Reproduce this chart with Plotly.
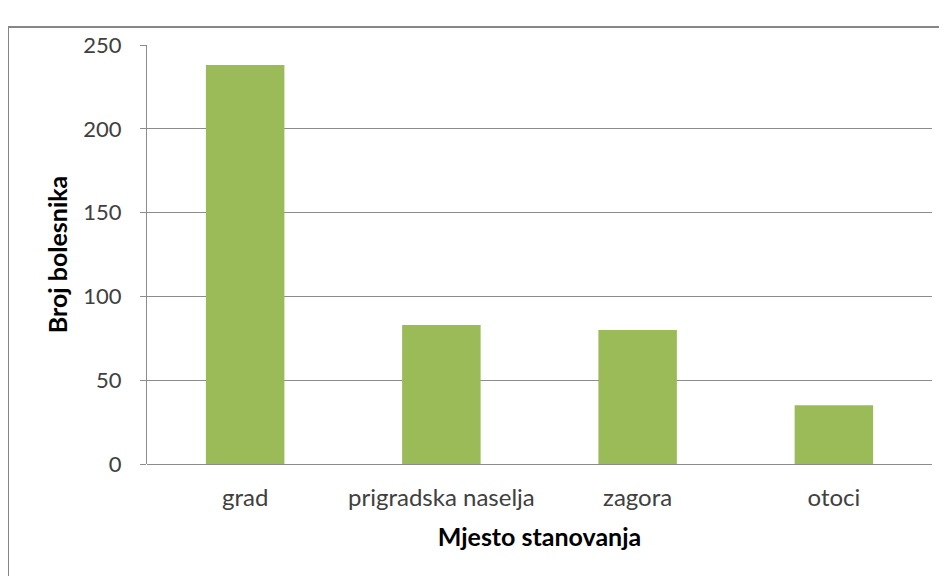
import plotly.graph_objects as go

categories = ["grad", "prigradska naselja", "zagora", "otoci"]
values = [238, 83, 80, 35]
y_ticks = [0, 50, 100, 150, 200, 250]

fig = go.Figure(go.Bar(
    x=categories, y=values, marker_color="#9BBB59", width=0.4,
    marker_line_width=0,
))

OFF = 8  # page body margin of the rendered html
W, H = 947 - OFF, 576 - OFF
L, R, T, B = 147 - OFF, 15, 45 - OFF, 112
pw, ph = W - L - R, H - T - B

def px(x):
    return (x - OFF - L) / pw

def py(y):
    return (H - B - (y - OFF)) / ph

fig.update_layout(
    width=W, height=H,
    margin=dict(l=L, r=R, t=T, b=B),
    paper_bgcolor="white", plot_bgcolor="white",
    font=dict(family="Lato, Carlito, sans-serif", size=22, color="#404040"),
    showlegend=False,
    xaxis=dict(
        showgrid=False, showline=False, ticks="",
        tickfont=dict(size=24, color="#404040"),
        ticklabelstandoff=17,
        title=dict(text="<b>Mjesto stanovanja</b>", font=dict(size=25, color="#000"), standoff=18),
    ),
    yaxis=dict(
        range=[0, 250], tickvals=y_ticks, showgrid=True, gridcolor="#8C8C8C", gridwidth=1,
        showline=True, linecolor="#8C8C8C", linewidth=1,
        ticks="outside", ticklen=6, tickcolor="#8C8C8C",
        tickfont=dict(size=22, color="#404040"),
        ticklabelstandoff=14,
        zeroline=True, zerolinecolor="#8C8C8C", zerolinewidth=1,
        title=dict(text="<b>Broj bolesnika</b>", font=dict(size=25, color="#000"), standoff=8),
    ),
    shapes=[dict(
        type="rect", xref="paper", yref="paper",
        x0=px(8), x1=px(970), y0=py(600), y1=py(27),
        line=dict(color="#868686", width=2), fillcolor="rgba(0,0,0,0)", layer="below",
    )],
)

fig.write_html("out.html")
